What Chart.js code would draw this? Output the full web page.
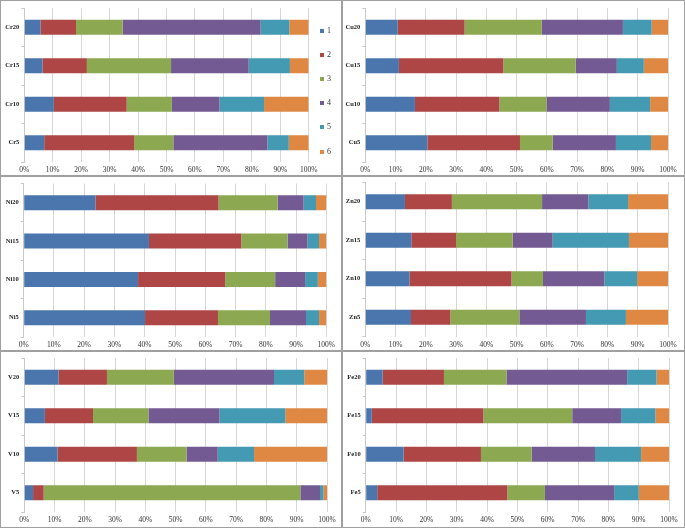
<!DOCTYPE html>
<html>
<head>
<meta charset="utf-8">
<script src="https://cdn.jsdelivr.net/npm/chart.js@4/dist/chart.umd.min.js"></script>
<style>
  html,body{margin:0;padding:0;background:#fff;}
  body{width:685px;height:528px;position:relative;overflow:hidden;font-family:"Liberation Serif","Times New Roman",serif;}
  .frame{position:absolute;box-sizing:border-box;border:1px solid #a0a0a0;}
  canvas.pc{position:absolute;}
  .lg{position:absolute;font-size:8px;color:#333;line-height:8px;height:8px;}
  .lg i{position:absolute;left:0;top:2px;width:4px;height:4px;}
  .lg span{position:absolute;left:7px;top:0;}
</style>
</head>
<body>
<script>
// ---- data ----
const seriesNames = ['1','2','3','4','5','6'];
const seriesColors = ['#4a76ad','#ad4644','#8ca951','#735a93','#4499b3','#df8843'];
const xTickLabels = ['0%','10%','20%','30%','40%','50%','60%','70%','80%','90%','100%'];

const crLabels = ['Cr20','Cr15','Cr10','Cr5'];
const crSeries = [
  [5.7, 6.4, 10.4, 7.0],
  [12.5, 15.6, 25.6, 31.6],
  [16.4, 29.6, 15.9, 13.8],
  [48.5, 27.3, 16.7, 33.1],
  [10.1, 14.5, 15.7, 7.5],
  [6.8, 6.6, 15.7, 7.0]
];
const cuLabels = ['Cu20','Cu15','Cu10','Cu5'];
const cuSeries = [
  [10.7, 11.1, 16.4, 20.5],
  [22.1, 34.5, 27.9, 30.6],
  [25.5, 23.9, 15.6, 10.8],
  [26.8, 13.6, 20.9, 20.9],
  [9.5, 8.9, 13.3, 11.6],
  [5.4, 8.0, 5.9, 5.6]
];
const niLabels = ['Ni20','Ni15','Ni10','Ni5'];
const niSeries = [
  [23.7, 41.4, 37.8, 40.1],
  [40.7, 30.5, 28.8, 24.1],
  [19.5, 15.3, 16.5, 17.2],
  [8.6, 6.6, 9.9, 11.9],
  [4.1, 3.8, 4.2, 4.3],
  [3.4, 2.4, 2.8, 2.4]
];
const znLabels = ['Zn20','Zn15','Zn10','Zn5'];
const znSeries = [
  [13.1, 15.2, 14.6, 15.1],
  [15.5, 14.8, 33.7, 13.0],
  [29.8, 18.7, 10.4, 22.8],
  [15.3, 13.2, 20.3, 22.0],
  [13.1, 25.2, 10.8, 13.2],
  [13.2, 12.9, 10.2, 13.9]
];
const vLabels = ['V20','V15','V10','V5'];
const vSeries = [
  [11.3, 6.8, 11.0, 2.9],
  [16.0, 15.9, 26.2, 3.5],
  [22.1, 18.3, 16.4, 84.8],
  [33.1, 23.5, 10.3, 6.5],
  [10.0, 21.7, 12.0, 1.1],
  [7.5, 13.8, 24.1, 1.2]
];
const feLabels = ['Fe20','Fe15','Fe10','Fe5'];
const feSeries = [
  [5.6, 2.0, 12.5, 3.8],
  [20.2, 36.8, 25.5, 42.9],
  [20.6, 29.3, 16.7, 12.4],
  [39.8, 16.1, 20.9, 22.8],
  [9.7, 11.3, 15.2, 8.1],
  [4.1, 4.5, 9.2, 10.0]
];

// ---- layout ----
function makePanel(box, area, labels, series) {
  const fr = document.createElement('div');
  fr.className = 'frame';
  Object.assign(fr.style, {left: box.x + 'px', top: box.y + 'px', width: box.w + 'px', height: box.h + 'px'});
  document.body.appendChild(fr);
  const cv = document.createElement('canvas');
  cv.className = 'pc';
  cv.width = box.w; cv.height = box.h;
  Object.assign(cv.style, {left: box.x + 'px', top: box.y + 'px', width: box.w + 'px', height: box.h + 'px'});
  document.body.appendChild(cv);
  new Chart(cv, {
    type: 'bar',
    data: {
      labels: labels,
      datasets: series.map((d, i) => ({
        label: seriesNames[i], data: d, backgroundColor: seriesColors[i],
        borderWidth: 0, barPercentage: 0.39, categoryPercentage: 1
      }))
    },
    options: {
      responsive: false, animation: false, indexAxis: 'y', devicePixelRatio: 1,
      layout: {padding: {top: area.top - box.y, right: box.x + box.w - area.right, left: 0, bottom: 0}},
      plugins: {legend: {display: false}, tooltip: {enabled: false}},
      scales: {
        x: {
          stacked: true, min: 0, max: 100,
          ticks: {stepSize: 10, autoSkip: false, maxRotation: 0, padding: 4, color: '#333',
                  font: {family: '"Liberation Serif", serif', size: 7.5},
                  callback: (v) => xTickLabels[Math.round(v / 10)]},
          grid: {color: '#d6d6d6', drawTicks: false, lineWidth: 1},
          border: {display: false},
          afterFit: (s) => { s.height = box.y + box.h - area.bottom; }
        },
        y: {
          stacked: true,
          ticks: {padding: 2, color: '#222', font: {family: '"Liberation Serif", serif', size: 6.5, weight: 'bold'}},
          grid: {drawOnChartArea: false, tickLength: 3, offset: true, color: '#c8c8c8'},
          border: {display: true, color: '#c8c8c8'},
          afterFit: (s) => { s.width = area.left - box.x; }
        }
      }
    }
  });
}

makePanel({x: 0, y: 0, w: 342, h: 176}, {left: 24.3, right: 308.7, top: 8, bottom: 162}, crLabels, crSeries);
makePanel({x: 342, y: 0, w: 343, h: 176}, {left: 365.3, right: 668, top: 8, bottom: 162}, cuLabels, cuSeries);
makePanel({x: 0, y: 176, w: 342, h: 175}, {left: 23.7, right: 326.3, top: 183.5, bottom: 337}, niLabels, niSeries);
makePanel({x: 342, y: 176, w: 343, h: 175}, {left: 365.3, right: 668, top: 182.5, bottom: 336.5}, znLabels, znSeries);
makePanel({x: 0, y: 351, w: 342, h: 177}, {left: 24.3, right: 327, top: 358, bottom: 512}, vLabels, vSeries);
makePanel({x: 342, y: 351, w: 343, h: 177}, {left: 365.7, right: 669, top: 358, bottom: 512}, feLabels, feSeries);

// legend (top-left panel)
const legendY = [31, 55, 79, 103, 127, 152];
seriesNames.forEach((n, i) => {
  const d = document.createElement('div');
  d.className = 'lg';
  d.style.left = '320px';
  d.style.top = (legendY[i] - 4) + 'px';
  d.innerHTML = '<i style="background:' + seriesColors[i] + '"></i><span>' + n + '</span>';
  document.body.appendChild(d);
});
</script>
</body>
</html>
